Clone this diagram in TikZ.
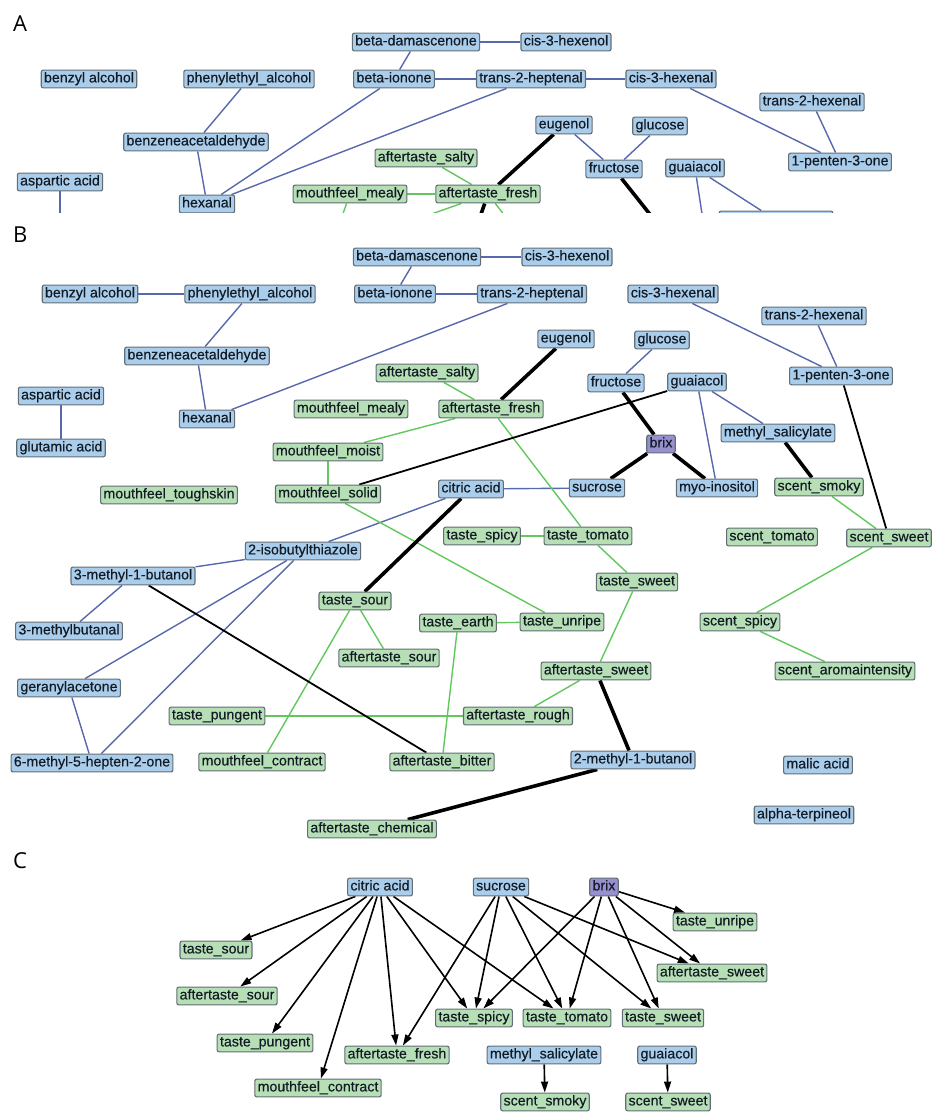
\documentclass[tikz,border=0pt]{standalone}
\usepackage{fontspec}
\setmainfont{Liberation Sans}
\newfontfamily\nodefont{Liberation Sans}[FakeBold=0.35]
\newfontfamily\panelfont{Open Sans}
\usetikzlibrary{arrows.meta}
\definecolor{blfill}{RGB}{170,205,235}
\definecolor{grfill}{RGB}{182,223,182}
\definecolor{pxfill}{RGB}{152,144,206}
\definecolor{ndborder}{RGB}{98,110,118}
\definecolor{edgeblue}{RGB}{88,104,172}
\definecolor{edgegreen}{RGB}{96,200,92}
\definecolor{ndtext}{RGB}{18,26,36}
\pgfdeclarelayer{bg}
\pgfsetlayers{bg,main}
\tikzset{
  nd/.style={draw=ndborder, rounded corners=2pt, line width=1.1pt,
    inner xsep=2.8pt, inner ysep=2.5pt, text height=9.8pt, text depth=3pt,
    font=\nodefont\fontsize{14.2}{15}\selectfont, text=ndtext},
  bl/.style={nd, fill=blfill},
  gr/.style={nd, fill=grfill},
  px/.style={nd, fill=pxfill},
  eb/.style={draw=edgeblue, line width=1.4pt},
  eg/.style={draw=edgegreen, line width=1.4pt},
  ek/.style={draw=black, line width=1.8pt},
  ekk/.style={draw=black, line width=3.6pt},
  arr/.style={draw=black, line width=1.6pt, -{Triangle[length=11pt,width=7pt]}},
  plabel/.style={anchor=base west, inner sep=0pt, font=\panelfont\fontsize{22}{24}\selectfont}
}
\begin{document}
\begin{tikzpicture}[x=1pt,y=-1pt]
\useasboundingbox (0,0) rectangle (932,1112);

% ---------------- panel A (cropped view) ----------------
\node[plabel] (labA) at (13,31) {A};
\begin{scope}
\clip (0,0) rectangle (932,212);
\node[bl] (aBdam) at (416,42) {beta-damascenone};
\node[bl] (aCisol) at (566,42) {cis-3-hexenol};
\node[bl] (aBion) at (394,79) {beta-ionone};
\node[bl] (aThep) at (531,79) {trans-2-heptenal};
\node[bl] (aCisal) at (671,79) {cis-3-hexenal};
\node[bl] (aThex) at (812,102) {trans-2-hexenal};
\node[bl] (aPent) at (840,162) {1-penten-3-one};
\node[bl] (aEug) at (564,125) {eugenol};
\node[bl] (aGlu) at (660,126) {glucose};
\node[bl] (aFru) at (614,169) {fructose};
\node[bl] (aGua) at (695,168) {guaiacol};
\node[bl] (aBenz) at (89,79) {benzyl alcohol};
\node[bl] (aPhen) at (249,79) {phenylethyl\_alcohol};
\node[bl] (aBald) at (196,142) {benzeneacetaldehyde};
\node[bl] (aAsp) at (60,182) {aspartic acid};
\node[bl] (aHex) at (207,204) {hexanal};
\node[gr] (aSalty) at (426,158) {aftertaste\_salty};
\node[gr] (aFresh) at (488,194) {aftertaste\_fresh};
\node[gr] (aMealy) at (350,194) {mouthfeel\_mealy};
\node[bl] (aMsal) at (776,220) {methyl\_salicylate};
\coordinate (aAspDn) at (60,240);
\coordinate (aGuaDn) at (706,240);
\coordinate (aFruDn) at (664,232);
\coordinate (aMoistC) at (330,250);
\coordinate (aFreshDn) at (472,240);
\coordinate (aTomC) at (522,238);
\end{scope}
\begin{pgfonlayer}{bg}
\begin{scope}
\clip (0,0) rectangle (932,212);
\draw[eb] (aBdam) -- (aBion);
\draw[eb] (aBdam) -- (aCisol);
\draw[eb] (aBion) -- (aThep);
\draw[eb] (aThep) -- (aCisal);
\draw[eb] (aCisal) -- (aPent);
\draw[eb] (aThex) -- (aPent);
\draw[eb] (aPhen) -- (aBald);
\draw[eb] (aBald) -- (aHex);
\draw[eb] (aBion) -- (aHex);
\draw[eb] (aThep) -- (aHex);
\draw[eb] (aEug) -- (aFru);
\draw[eb] (aGlu) -- (aFru);
\draw[eb] (aGua) -- (aMsal);
\draw[eb] (aGua) -- (aGuaDn);
\draw[eb] (aAsp) -- (aAspDn);
\draw[eg] (aSalty) -- (aFresh);
\draw[eg] (aMealy) -- (aFresh);
\draw[eg] (aMealy) -- (aMoistC);
\draw[eg] (aFresh) -- (aMoistC);
\draw[eg] (aFresh) -- (aTomC);
\draw[ekk] (aEug) -- (aFresh);
\draw[ekk] (aFresh) -- (aFreshDn);
\draw[ekk] (aFru) -- (aFruDn);
\end{scope}
\end{pgfonlayer}

% ---------------- panel B (full network) ----------------
\node[plabel] (labB) at (13,242) {B};
\node[bl] (bBdam) at (417,257) {beta-damascenone};
\node[bl] (bCisol) at (567,257) {cis-3-hexenol};
\node[bl] (bBion) at (395,294) {beta-ionone};
\node[bl] (bThep) at (532,294) {trans-2-heptenal};
\node[bl] (bCisal) at (673,294) {cis-3-hexenal};
\node[bl] (bThex) at (814,316) {trans-2-hexenal};
\node[bl] (bPent) at (841,376) {1-penten-3-one};
\node[bl] (bEug) at (566,339) {eugenol};
\node[bl] (bGlu) at (662,340) {glucose};
\node[bl] (bFru) at (616,383) {fructose};
\node[bl] (bGua) at (697,382) {guaiacol};
\node[bl] (bMsal) at (778,433) {methyl\_salicylate};
\node[px] (bBrix) at (661,444) {brix};
\node[bl] (bBenz) at (90,294) {benzyl alcohol};
\node[bl] (bPhen) at (250,294) {phenylethyl\_alcohol};
\node[bl] (bBald) at (197,356) {benzeneacetaldehyde};
\node[bl] (bAsp) at (61,396) {aspartic acid};
\node[bl] (bGlut) at (61,448) {glutamic acid};
\node[bl] (bHex) at (207,419) {hexanal};
\node[gr] (bSalty) at (427,373) {aftertaste\_salty};
\node[gr] (bMealy) at (351,409) {mouthfeel\_mealy};
\node[gr] (bFresh) at (491,409) {aftertaste\_fresh};
\node[gr] (bMoist) at (328,452) {mouthfeel\_moist};
\node[gr] (bSolid) at (328,494) {mouthfeel\_solid};
\node[gr] (bTough) at (169,495) {mouthfeel\_toughskin};
\node[bl] (bCit) at (471,489) {citric acid};
\node[bl] (bSuc) at (597,488) {sucrose};
\node[bl] (bMyo) at (717,488) {myo-inositol};
\node[gr] (bSmoky) at (819,487) {scent\_smoky};
\node[bl] (bIsob) at (303,551) {2-isobutylthiazole};
\node[gr] (bTspicy) at (482,536) {taste\_spicy};
\node[gr] (bTtom) at (588,536) {taste\_tomato};
\node[gr] (bStom) at (772,537) {scent\_tomato};
\node[gr] (bSsweet) at (889,538) {scent\_sweet};
\node[bl] (bMbol) at (133,576) {3-methyl-1-butanol};
\node[gr] (bTsweet) at (637,582) {taste\_sweet};
\node[gr] (bTsour) at (355,601) {taste\_sour};
\node[bl] (bMbal) at (69,631) {3-methylbutanal};
\node[gr] (bTearth) at (458,623) {taste\_earth};
\node[gr] (bTunripe) at (562,622) {taste\_unripe};
\node[gr] (bSspicy) at (740,622) {scent\_spicy};
\node[gr] (bAsour) at (389,658) {aftertaste\_sour};
\node[gr] (bAsweet) at (596,671) {aftertaste\_sweet};
\node[gr] (bSarom) at (845,671) {scent\_aromaintensity};
\node[bl] (bGeran) at (69,688) {geranylacetone};
\node[gr] (bTpung) at (217,716) {taste\_pungent};
\node[gr] (bArough) at (518,716) {aftertaste\_rough};
\node[bl] (bMhept) at (92,763) {6-methyl-5-hepten-2-one};
\node[gr] (bMcont) at (262,762) {mouthfeel\_contract};
\node[gr] (bAbitter) at (442,762) {aftertaste\_bitter};
\node[bl] (bMbutb) at (633,760) {2-methyl-1-butanol};
\node[bl] (bMalic) at (818,765) {malic acid};
\node[bl] (bAlpha) at (804,815) {alpha-terpineol};
\node[gr] (bAchem) at (372,829) {aftertaste\_chemical};
\begin{pgfonlayer}{bg}
% compound--compound links
\draw[eb] (bBenz) -- (bPhen);
\draw[eb] (bPhen) -- (bBald);
\draw[eb] (bBald) -- (bHex);
\draw[eb] (bHex) -- (bThep);
\draw[eb] (bBdam) -- (bBion);
\draw[eb] (bBdam) -- (bCisol);
\draw[eb] (bBion) -- (bThep);
\draw[eb] (bCisal) -- (bPent);
\draw[eb] (bThex) -- (bPent);
\draw[eb] (bGlu) -- (bFru);
\draw[eb] (bGua) -- (bMyo);
\draw[eb] (bGua) -- (bMsal);
\draw[eb] (bAsp) -- (bGlut);
\draw[eb] (bCit) -- (bSuc);
\draw[eb] (bCit) -- (bIsob);
\draw[eb] (bIsob) -- (bMbol);
\draw[eb] (bIsob) -- (bGeran);
\draw[eb] (bIsob) -- (bMhept);
\draw[eb] (bMbol) -- (bMbal);
\draw[eb] (bGeran) -- (bMhept);
% sensory--sensory links
\draw[eg] (bSalty) -- (bFresh);
\draw[eg] (bFresh) -- (bMoist);
\draw[eg] (bFresh) -- (bTtom);
\draw[eg] (bMoist) -- (bSolid);
\draw[eg] (bSolid) -- (bTunripe);
\draw[eg] (bTspicy) -- (bTtom);
\draw[eg] (bTtom) -- (bTsweet);
\draw[eg] (bTsweet) -- (bAsweet);
\draw[eg] (bAsweet) -- (bArough);
\draw[eg] (bTpung) -- (bArough);
\draw[eg] (bTearth) -- (bTunripe);
\draw[eg] (bTearth) -- (bAbitter);
\draw[eg] (bTsour) -- (bAsour);
\draw[eg] (bTsour) -- (bMcont);
\draw[eg] (bSmoky) -- (bSsweet);
\draw[eg] (bSsweet) -- (bSspicy);
\draw[eg] (bSspicy) -- (bSarom);
% compound--sensory links
\draw[ek] (bGua) -- (bSolid);
\draw[ek] (bPent) -- (bSsweet);
\draw[ek] (bMbol) -- (bAbitter);
\draw[ekk] (bEug) -- (bFresh);
\draw[ekk] (bFru) -- (bBrix);
\draw[ekk] (bBrix) -- (bSuc);
\draw[ekk] (bBrix) -- (bMyo);
\draw[ekk] (bMsal) -- (bSmoky);
\draw[ekk] (bCit) -- (bTsour);
\draw[ekk] (bAsweet) -- (bMbutb);
\draw[ekk] (bMbutb) -- (bAchem);
\end{pgfonlayer}

% ---------------- panel C (directed) ----------------
\node[plabel] (labC) at (13,868) {C};
\node[bl] (cCit) at (380,887) {citric acid};
\node[bl] (cSuc) at (501,887) {sucrose};
\node[px] (cBrix) at (604,887) {brix};
\node[gr] (cTunripe) at (715,922) {taste\_unripe};
\node[gr] (cAsweet) at (712,973) {aftertaste\_sweet};
\node[gr] (cTspicy) at (474,1018) {taste\_spicy};
\node[gr] (cTtom) at (567,1018) {taste\_tomato};
\node[gr] (cTsweet) at (663,1018) {taste\_sweet};
\node[bl] (cMsal) at (544,1055) {methyl\_salicylate};
\node[bl] (cGua) at (667,1055) {guaiacol};
\node[gr] (cSmoky) at (545,1102) {scent\_smoky};
\node[gr] (cSsweet) at (668,1102) {scent\_sweet};
\node[gr] (cFresh) at (397,1055) {aftertaste\_fresh};
\node[gr] (cTsour) at (216,950) {taste\_sour};
\node[gr] (cAsour) at (227,996) {aftertaste\_sour};
\node[gr] (cTpung) at (265,1043) {taste\_pungent};
\node[gr] (cMcont) at (318,1088) {mouthfeel\_contract};
\begin{pgfonlayer}{bg}
\draw[arr] (cCit) -- (cTsour);
\draw[arr] (cCit) -- (cAsour);
\draw[arr] (cCit) -- (cTpung);
\draw[arr] (cCit) -- (cMcont);
\draw[arr] (cCit) -- (cFresh);
\draw[arr] (cCit) -- (cTspicy);
\draw[arr] (cCit) -- (cTtom);
\draw[arr] (cSuc) -- (cFresh);
\draw[arr] (cSuc) -- (cTspicy);
\draw[arr] (cSuc) -- (cTtom);
\draw[arr] (cSuc) -- (cTsweet);
\draw[arr] (cSuc) -- (cAsweet);
\draw[arr] (cBrix) -- (cTspicy);
\draw[arr] (cBrix) -- (cTtom);
\draw[arr] (cBrix) -- (cTsweet);
\draw[arr] (cBrix) -- (cAsweet);
\draw[arr] (cBrix) -- (cTunripe);
\draw[arr] (cMsal) -- (cSmoky);
\draw[arr] (cGua) -- (cSsweet);
\end{pgfonlayer}
\end{tikzpicture}
\end{document}
